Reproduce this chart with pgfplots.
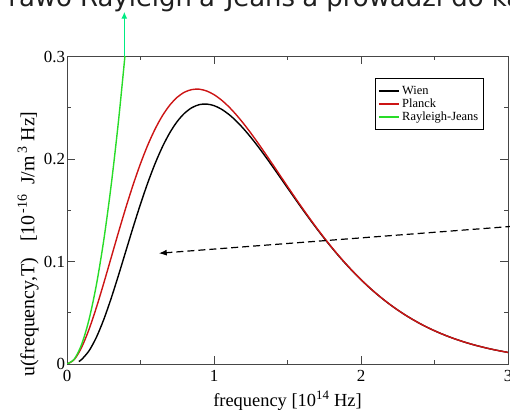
\documentclass[border=0pt]{standalone}
\usepackage{pgfplots}
\pgfplotsset{compat=1.18}
\usetikzlibrary{arrows.meta}
\usepackage{fontspec}
\setmainfont{Liberation Serif}
\newfontfamily\titlefont{DejaVu Sans}

\definecolor{planckred}{RGB}{204,20,20}
\definecolor{rjgreen}{RGB}{40,220,40}
\definecolor{arrowgreen}{RGB}{0,235,130}
\definecolor{axisgray}{RGB}{70,70,70}

\begin{document}
\begin{tikzpicture}
\path[use as bounding box] (0bp,0bp) rectangle (510bp,411bp);
\clip (0bp,0bp) rectangle (510bp,411bp);
% cut-off slide text above the plot
\node[anchor=base west, inner sep=0pt, font=\titlefont\fontsize{26}{30}\selectfont, text=black!88]
  at (-7bp,404.5bp) {Prawo Rayleigh'a-Jeans'a prowadzi do katastrofy};
\begin{axis}[
  at={(67bp,47bp)}, anchor=south west,
  scale only axis, width=441bp, height=307.5bp,
  xmin=0, xmax=3, ymin=0, ymax=0.3,
  xtick={0,1,2,3}, ytick={0,0.1,0.2,0.3},
  minor x tick num=1, minor y tick num=1,
  major tick length=8bp, minor tick length=4bp,
  axis line style={axisgray, line width=0.9bp},
  every tick/.style={axisgray, line width=0.9bp},
  tick label style={font=\fontsize{17}{20}\selectfont},
  /pgf/number format/assume math mode=true,
  xticklabel style={yshift=-3bp},
  yticklabel style={xshift=1.5bp},
  xlabel={frequency [10\textsuperscript{14} Hz]},
  xlabel style={font=\fontsize{18.5}{21}\selectfont, at={(rel axis cs:0.5,0)}, anchor=base, yshift=-42bp},
  ylabel={u(frequency,T)\hspace{16bp}[10\textsuperscript{\,-16}\hspace{9bp}J/m\textsuperscript{\,3}\hspace{5bp}Hz]},
  ylabel style={font=\fontsize{20}{22}\selectfont, at={(rel axis cs:-0.074,0.39)}, anchor=base},
  clip mode=individual,
  legend style={at={(0.698,0.930)}, anchor=north west, draw=black, line width=0.8bp,
    font=\fontsize{12.5}{13}\selectfont, inner xsep=3bp, inner ysep=6bp,
    nodes={inner xsep=2.5bp, inner ysep=0bp, text height=10bp, text depth=3bp}},
  legend cell align=left,
  legend image code/.code={\draw[#1, line width=1.5bp] (0bp,0bp) -- (20bp,0bp);},
]
\addplot[black, line width=1.4bp, smooth] coordinates {
(0.08,0.00245) (0.10,0.004489) (0.15,0.012909) (0.20,0.026075) (0.25,0.043399)
(0.30,0.063906) (0.35,0.086479) (0.40,0.110004) (0.45,0.133472) (0.50,0.156022)
(0.55,0.176966) (0.60,0.195784) (0.65,0.212123) (0.70,0.225769) (0.75,0.236635)
(0.80,0.244732) (0.85,0.250112) (0.90,0.253043) (0.95,0.253607) (1.00,0.252066)
(1.05,0.248660) (1.10,0.243635) (1.15,0.237235) (1.20,0.229695) (1.25,0.221240)
(1.30,0.212073) (1.35,0.202386) (1.40,0.192348) (1.45,0.182109) (1.50,0.171801)
(1.55,0.161537) (1.60,0.151411) (1.65,0.141506) (1.70,0.131885) (1.75,0.122598)
(1.80,0.113686) (1.85,0.105180) (1.90,0.097096) (1.95,0.089448) (2.00,0.082239)
(2.05,0.075470) (2.10,0.069134) (2.15,0.063223) (2.20,0.057724) (2.25,0.052620)
(2.30,0.047897) (2.35,0.043537) (2.40,0.039520) (2.45,0.035826) (2.50,0.032438)
(2.55,0.029334) (2.60,0.026497) (2.65,0.023908) (2.70,0.021548) (2.75,0.019402)
(2.80,0.017452) (2.85,0.015683) (2.90,0.014080) (2.95,0.012630) (3.00,0.011320)
};
\addlegendentry{Wien}
\addplot[planckred, line width=1.4bp, smooth] coordinates {
(0,0) (0.05,0.004453) (0.10,0.016395) (0.15,0.033866) (0.20,0.055168) (0.25,0.078819)
(0.30,0.103568) (0.35,0.128371) (0.40,0.152380) (0.45,0.174926) (0.50,0.195504)
(0.55,0.213750) (0.60,0.229430) (0.65,0.242420) (0.70,0.252679) (0.75,0.260253)
(0.80,0.265244) (0.85,0.267753) (0.90,0.268099) (0.95,0.266354) (1.00,0.262783)
(1.05,0.257613) (1.10,0.251070) (1.15,0.243377) (1.20,0.234744) (1.25,0.225370)
(1.30,0.215438) (1.35,0.205116) (1.40,0.194554) (1.45,0.183886) (1.50,0.173227)
(1.55,0.162679) (1.60,0.152322) (1.65,0.142231) (1.70,0.132460) (1.75,0.123054)
(1.80,0.114046) (1.85,0.105463) (1.90,0.097319) (1.95,0.089622) (2.00,0.082376)
(2.05,0.075577) (2.10,0.069218) (2.15,0.063288) (2.20,0.057775) (2.25,0.052660)
(2.30,0.047928) (2.35,0.043561) (2.40,0.039538) (2.45,0.035840) (2.50,0.032448)
(2.55,0.029343) (2.60,0.026503) (2.65,0.023913) (2.70,0.021552) (2.75,0.019405)
(2.80,0.017454) (2.85,0.015685) (2.90,0.014082) (2.95,0.012631) (3.00,0.011320)
};
\addlegendentry{Planck}
\addplot[rjgreen, line width=1.4bp, smooth] coordinates {
(0,0) (0.05,0.004829) (0.10,0.019318) (0.15,0.043465) (0.20,0.077271)
(0.25,0.120736) (0.30,0.173859) (0.35,0.236642) (0.40,0.309083)
};
\addlegendentry{Rayleigh-Jeans}
% annotations
\draw[arrowgreen, line width=1.4bp, -{Latex[length=7bp,width=6bp]}]
  (axis cs:0.39,0.3) -- (axis cs:0.39,0.3437);
\draw[black, line width=1.2bp, dash pattern=on 7bp off 4bp, -{Latex[length=8bp,width=6bp]}]
  (axis cs:3.03,0.1343) -- (axis cs:0.624,0.108);
\end{axis}
\end{tikzpicture}
\end{document}
